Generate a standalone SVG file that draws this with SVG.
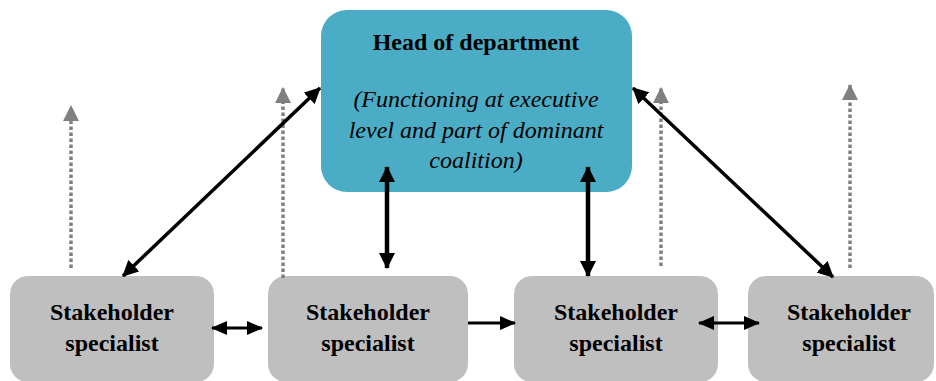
<svg xmlns="http://www.w3.org/2000/svg" width="936" height="381" viewBox="0 0 936 381">
<style>
.head{fill:#4BACC6}
.sh{fill:#BFBFBF}
text{font-family:'Liberation Serif','Times New Roman','DejaVu Serif',serif;font-size:24px;fill:#000;text-anchor:middle}
.b{font-weight:bold}
.i{font-style:italic}
.c{stroke:#000;stroke-width:3.5;fill:none}
.v{stroke-width:4.5}
.h{stroke-width:3}
.d{stroke:#808080;stroke-width:3.5;stroke-dasharray:3.5 2.5;fill:none}
</style>
<defs>
<marker id="ah" markerUnits="userSpaceOnUse" markerWidth="16" markerHeight="16" refX="15" refY="8" orient="auto-start-reverse" viewBox="0 0 16 16">
<path d="M0,0 L16,8 L0,16 z" fill="#000"/>
</marker>
<marker id="ahs" markerUnits="userSpaceOnUse" markerWidth="16" markerHeight="14" refX="15" refY="7" orient="auto-start-reverse" viewBox="0 0 16 14">
<path d="M0,0 L16,7 L0,14 z" fill="#000"/>
</marker>
<marker id="gh" markerUnits="userSpaceOnUse" markerWidth="16" markerHeight="16" refX="15" refY="8" orient="auto" viewBox="0 0 16 16">
<path d="M0,0 L16,8 L0,16 z" fill="#808080"/>
</marker>
</defs>
<g id="head">
<rect class="head" x="321" y="10" width="311" height="182" rx="26"/>
<text class="b" x="476" y="50">Head of department</text>
<text class="i" x="476" y="107">(Functioning at executive</text>
<text class="i" x="476" y="138">level and part of dominant</text>
<text class="i" x="476" y="168">coalition)</text>
</g>
<g id="sh1">
<rect class="sh" x="10" y="276" width="204" height="106" rx="18"/>
<text class="b" x="112" y="320">Stakeholder</text>
<text class="b" x="112" y="351">specialist</text>
</g>
<g id="sh2">
<rect class="sh" x="268" y="276" width="200" height="106" rx="18"/>
<text class="b" x="368" y="320">Stakeholder</text>
<text class="b" x="368" y="351">specialist</text>
</g>
<g id="sh3">
<rect class="sh" x="514" y="276" width="204" height="106" rx="18"/>
<text class="b" x="616" y="320">Stakeholder</text>
<text class="b" x="616" y="351">specialist</text>
</g>
<g id="sh4">
<rect class="sh" x="748" y="276" width="186" height="106" rx="18"/>
<text class="b" x="849" y="320">Stakeholder</text>
<text class="b" x="849" y="351">specialist</text>
</g>
<g id="connectors">
<line class="d" x1="71" y1="268" x2="71" y2="106" marker-end="url(#gh)"/>
<line class="d" x1="283" y1="278" x2="283" y2="88" marker-end="url(#gh)"/>
<line class="d" x1="661" y1="266" x2="661" y2="88" marker-end="url(#gh)"/>
<line class="d" x1="850" y1="268" x2="850" y2="85" marker-end="url(#gh)"/>
<line class="c" x1="123" y1="276" x2="320" y2="88" marker-start="url(#ah)" marker-end="url(#ah)"/>
<line class="c" x1="633" y1="88" x2="833" y2="277" marker-start="url(#ah)" marker-end="url(#ah)"/>
<line class="c v" x1="387" y1="167" x2="387" y2="268" marker-start="url(#ah)" marker-end="url(#ah)"/>
<line class="c v" x1="588" y1="167" x2="588" y2="276" marker-start="url(#ah)" marker-end="url(#ah)"/>
<line class="c h" x1="212" y1="328" x2="262" y2="328" marker-start="url(#ahs)" marker-end="url(#ahs)"/>
<line class="c h" x1="468" y1="323" x2="515" y2="323" marker-end="url(#ahs)"/>
<line class="c h" x1="699" y1="323" x2="759" y2="323" marker-start="url(#ahs)" marker-end="url(#ahs)"/>
</g>
</svg>
